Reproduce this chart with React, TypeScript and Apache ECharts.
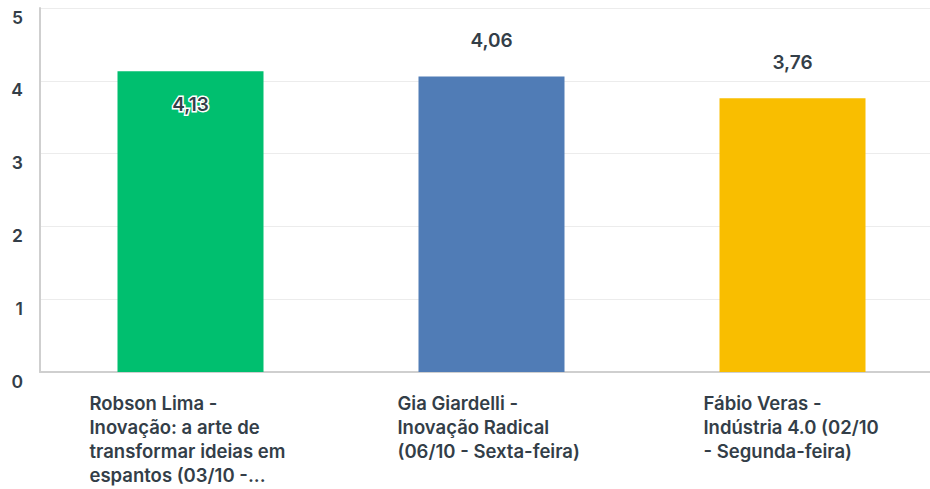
import React, { useEffect, useRef } from "react";
import * as echarts from "echarts";

const categories = [
  "Robson Lima -\nInovação: a arte de\ntransformar ideias em\nespantos (03/10 -...",
  "Gia Giardelli -\nInovação Radical\n(06/10 - Sexta-feira)",
  "Fábio Veras -\nIndústria 4.0 (02/10\n- Segunda-feira)",
];
const values = [4.13, 4.06, 3.76];
const colors = ["#00bf6f", "#507cb6", "#f9be00"];
const yTicks = [0, 1, 2, 3, 4, 5];

const FONT = "Inter, 'Open Sans', sans-serif";
const TEXT = "#333e48";

export default function App() {
  const ref = useRef<HTMLDivElement>(null);
  useEffect(() => {
    if (!ref.current) return;
    const chart = echarts.init(ref.current, null, { renderer: "svg" });
    const blockWidths = [202, 188, 178];
    const rich: Record<string, any> = {};
    blockWidths.forEach((w, i) => {
      rich["c" + i] = {
        width: w,
        align: "left",
        fontSize: 18.5,
        fontWeight: 600,
        lineHeight: 24,
        color: TEXT,
        fontFamily: FONT,
      };
    });
    chart.setOption({
      animation: false,
      textStyle: { fontFamily: FONT },
      grid: { left: 40, top: 8, right: 17, bottom: 117, containLabel: false },
      xAxis: {
        type: "category",
        data: categories,
        axisLine: { show: true, lineStyle: { color: "#cfcfcf", width: 2 } },
        axisTick: { show: false },
        axisLabel: {
          interval: 0,
          margin: 19,
          align: "center",
          verticalAlign: "top",
          formatter: (v: string) => {
            const i = categories.indexOf(v);
            return v
              .split("\n")
              .map((l) => `{c${i}|${l}}`)
              .join("\n");
          },
          rich,
        },
      },
      yAxis: {
        type: "value",
        min: yTicks[0],
        max: yTicks[yTicks.length - 1],
        interval: 1,
        axisLine: { show: true, lineStyle: { color: "#cfcfcf", width: 2 } },
        axisTick: { show: false },
        splitLine: { show: true, lineStyle: { color: "#ececec", width: 1 } },
        axisLabel: {
          margin: 17,
          fontSize: 17.5,
          fontWeight: 600,
          color: TEXT,
          fontFamily: FONT,
          verticalAlign: "top",
        },
      },
      series: [
        {
          type: "bar",
          barWidth: 146,
          data: values.map((v, i) => ({
            value: v,
            itemStyle: { color: colors[i] },
            label:
              i === 0
                ? {
                    show: true,
                    position: "insideTop",
                    distance: 24,
                    color: TEXT,
                    textBorderColor: "#ffffff",
                    textBorderWidth: 3,
                  }
                : { show: true, position: "top", distance: 26, color: TEXT },
          })),
          label: {
            show: true,
            fontSize: 19,
            fontWeight: 600,
            fontFamily: FONT,
            formatter: (p: any) => p.value.toFixed(2).replace(".", ","),
          },
        },
      ],
    });
    return () => chart.dispose();
  }, []);
  return (
    <div style={{ width: 930, height: 489, position: "absolute", left: 0, top: 0, overflow: "hidden" }}>
      <div ref={ref} style={{ width: 960, height: 489 }} />
    </div>
  );
}
